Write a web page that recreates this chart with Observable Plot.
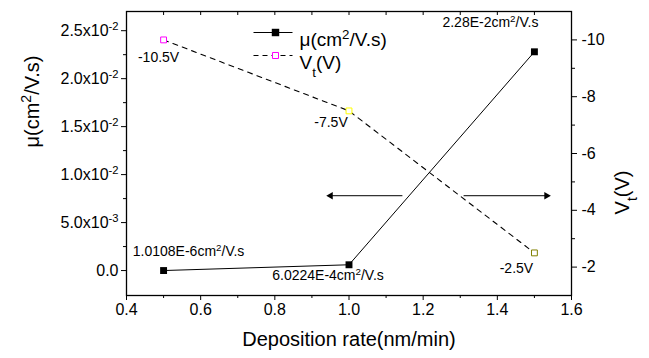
<!DOCTYPE html>
<html><head><meta charset="utf-8">
<script src="https://cdn.jsdelivr.net/npm/d3@7"></script>
<script src="https://cdn.jsdelivr.net/npm/@observablehq/plot@0.6"></script>
<style>
html,body{margin:0;padding:0;background:#fff;}
#chart{width:649px;height:358px;overflow:hidden;}
</style></head><body><div id="chart"></div>
<script>
// ---- data ----
const rate = [0.5, 1.0, 1.5];
const mobility = [1.0108e-6, 6.0224e-4, 2.28e-2];
const vt = [-10, -7.5, -2.5];
const mobilityLabels = ["1.0108E-6cm^{2}/V.s", "6.0224E-4cm^{2}/V.s", "2.28E-2cm^{2}/V.s"];
const vtLabels = ["-10.5V", "-7.5V", "-2.5V"];
const vtColors = ["#ff00ff", "#ffff00", "#808000"];
const xTicks = [0.4, 0.6, 0.8, 1.0, 1.2, 1.4, 1.6];
const xTickLabels = ["0.4", "0.6", "0.8", "1.0", "1.2", "1.4", "1.6"];
const muTicks = [0, 0.005, 0.01, 0.015, 0.02, 0.025];
const muTickLabels = ["0.0", "5.0x10^{-3}", "1.0x10^{-2}", "1.5x10^{-2}", "2.0x10^{-2}", "2.5x10^{-2}"];
const vtTicks = [-2, -4, -6, -8, -10];
const vtTickLabels = ["-2", "-4", "-6", "-8", "-10"];
const legendLabels = ["μ(cm^{2}/V.s)", "V_{t}(V)"];
const xTitle = "Deposition rate(nm/min)";
const muTitle = "μ(cm^{2}/V.s)";
const vtTitle = "V_{t}(V)";
// arrows telling which axis each curve belongs to (x: deposition rate, y: mobility units)
const arrowTail = [1.144, 1.309];
const arrowTip = [0.945, 1.538];
const arrowLevel = [0.0078, 0.0078];

// ---- scales ----
const xDomain = [0.4, 1.6];
const muDomain = [-0.0026, 0.027];
const vtDomain = [-1, -11];
const vtToMu = d3.scaleLinear(vtDomain, muDomain);

const pts = rate.map((r, i) => ({rate: r, mu: mobility[i], vtMu: vtToMu(vt[i]), muLabel: mobilityLabels[i], vtLabel: vtLabels[i], vtColor: vtColors[i]}));
const arrows = arrowTail.map((t, i) => ({x1: t, x2: arrowTip[i], y: arrowLevel[i], dir: arrowTip[i] > t ? 1 : -1}));

const fmt = (ticks, labels) => d => { const k = ticks.findIndex(t => Math.abs(t - d) < 1e-9); return k >= 0 ? labels[k] : ""; };
const font = "'Liberation Sans', Arial, Helvetica, sans-serif";
const hline = len => ({draw(ctx) { ctx.moveTo(-len / 2, 0); ctx.lineTo(len / 2, 0); }});
const range = (a, b, s) => d3.range(Math.round((b - a) / s) + 1).map(k => +(a + k * s).toFixed(6));

const muMinor = range(0.0025, 0.0225, 0.005);
const vtMinor = [-3, -5, -7, -9];
const xMinor = range(0.5, 1.5, 0.2);
const xTop = range(0.4, 1.6, 0.1);

const labelText = (i, opts) => Plot.text([pts[i]], {x: "rate", fontSize: 14, fill: "black", ...opts});

const chart = Plot.plot({
  width: 649, height: 358,
  marginLeft: 126, marginRight: 78, marginTop: 11, marginBottom: 63,
  style: {fontFamily: font, background: "white", color: "black", overflow: "visible"},
  x: {domain: xDomain},
  y: {domain: muDomain},
  color: {type: "identity"},
  marks: [
    // axes
    Plot.axisX({ticks: xTicks, tickSize: 5, tickPadding: 3, tickFormat: fmt(xTicks, xTickLabels), fontSize: 16, label: null}),
    Plot.axisX({ticks: xMinor, tickSize: 3, tickFormat: () => "", label: null}),
    Plot.axisX({anchor: "top", ticks: xTop, tickSize: 3, dy: 3, tickFormat: () => "", label: null}),
    Plot.axisY({ticks: muTicks, tickSize: 5, tickPadding: 3, tickFormat: fmt(muTicks, muTickLabels), fontSize: 16, label: null}),
    Plot.axisY({ticks: muMinor, tickSize: 3, tickFormat: () => "", label: null}),
    Plot.axisY({anchor: "right", ticks: vtTicks.map(vtToMu), tickSize: 5, tickPadding: 5, tickFormat: fmt(vtTicks.map(vtToMu), vtTickLabels), fontSize: 16, label: null}),
    Plot.axisY({anchor: "right", ticks: vtMinor.map(vtToMu), tickSize: 3, tickFormat: () => "", label: null}),
    Plot.frame({stroke: "black", strokeWidth: 1.3}),
    // axis titles
    Plot.text([xTitle], {frameAnchor: "bottom", dy: 50, fontSize: 20, fill: "black"}),
    Plot.text([muTitle], {frameAnchor: "left", dx: -94, dy: -6, rotate: -90, fontSize: 20, fill: "black"}),
    Plot.text([vtTitle], {frameAnchor: "right", dx: 51, dy: 17, rotate: -90, fontSize: 20, fill: "black"}),
    // series
    Plot.line(pts, {x: "rate", y: "vtMu", stroke: "black", strokeWidth: 1.1, strokeDasharray: "5,5"}),
    Plot.line(pts, {x: "rate", y: "mu", stroke: "black", strokeWidth: 1}),
    Plot.dot(pts, {x: "rate", y: "vtMu", symbol: "square", r: 3.3, stroke: "vtColor", fill: "white", strokeWidth: 1}),
    Plot.dot(pts, {x: "rate", y: "mu", symbol: "square", r: 3.9, fill: "black", stroke: "none"}),
    // arrows
    Plot.link(arrows, {x1: "x1", x2: "x2", y1: "y", y2: "y", stroke: "black", strokeWidth: 1}),
    Plot.dot(arrows.filter(d => d.dir < 0), {x: "x2", y: "y", symbol: "triangle", r: 2.8, fill: "black", stroke: "none", rotate: -90, dx: 2}),
    Plot.dot(arrows.filter(d => d.dir > 0), {x: "x2", y: "y", symbol: "triangle", r: 2.8, fill: "black", stroke: "none", rotate: 90, dx: -2}),
    // point annotations
    labelText(0, {y: "mu", text: "muLabel", dx: 25, dy: -19}),
    labelText(1, {y: "mu", text: "muLabel", dx: -21, dy: 11}),
    labelText(2, {y: "mu", text: "muLabel", dx: -44, dy: -29}),
    labelText(0, {y: "vtMu", text: "vtLabel", dx: -5, dy: 18}),
    labelText(1, {y: "vtMu", text: "vtLabel", dx: -18, dy: 12}),
    labelText(2, {y: "vtMu", text: "vtLabel", dx: -18, dy: 16}),
    // legend
    Plot.dot([0], {frameAnchor: "top-left", dx: 146.5, dy: 21, symbol: hline(39), r: 1, stroke: "black", fill: "none", strokeWidth: 1}),
    Plot.dot([0], {frameAnchor: "top-left", dx: 149, dy: 21, symbol: "square", r: 4.2, fill: "black", stroke: "none"}),
    Plot.text([legendLabels[0]], {frameAnchor: "top-left", dx: 173, dy: 21, textAnchor: "start", fontSize: 19, fill: "black"}),
    Plot.dot([0], {frameAnchor: "top-left", dx: 146.5, dy: 44, symbol: hline(39), r: 1, stroke: "black", fill: "none", strokeWidth: 1, strokeDasharray: "5,4"}),
    Plot.dot([0], {frameAnchor: "top-left", dx: 149, dy: 44, symbol: "square", r: 3.4, fill: "white", stroke: "#ff00ff", strokeWidth: 1}),
    Plot.text([legendLabels[1]], {frameAnchor: "top-left", dx: 173, dy: 44, textAnchor: "start", fontSize: 19, fill: "black"})
  ]
});

// superscripts / subscripts: ^{..} and _{..}
const NS = "http://www.w3.org/2000/svg";
chart.querySelectorAll("text").forEach(t => {
  const s = t.textContent;
  if (!/[\^_]\{/.test(s)) return;
  while (t.firstChild) t.removeChild(t.firstChild);
  const add = (str, kind) => {
    const ts = document.createElementNS(NS, "tspan");
    ts.textContent = str;
    if (kind) { ts.setAttribute("font-size", "70%"); ts.setAttribute("baseline-shift", kind === "^" ? "super" : "sub"); }
    t.appendChild(ts);
  };
  const re = /([\^_])\{([^}]*)\}/g;
  let last = 0, m;
  while ((m = re.exec(s))) {
    if (m.index > last) add(s.slice(last, m.index));
    add(m[2], m[1]);
    last = re.lastIndex;
  }
  if (last < s.length) add(s.slice(last));
});
document.getElementById("chart").appendChild(chart);
</script></body></html>
